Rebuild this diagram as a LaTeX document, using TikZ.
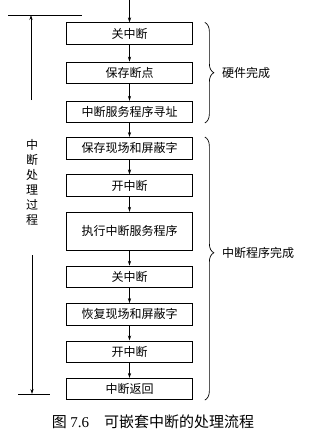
\documentclass[tikz,border=0pt]{standalone}
\usepackage{fontspec}
\setmainfont{Noto Sans CJK SC}
\newfontfamily\latinserif{Liberation Serif}
\usetikzlibrary{positioning,arrows.meta,decorations.pathreplacing}
\tikzset{
  stepbox/.style={rectangle, draw, align=center, line width=0.7pt,
                  minimum width=126pt, minimum height=21.5pt, inner sep=2pt,
                  font=\fontsize{12}{14}\selectfont},
  tallbox/.style={stepbox, minimum height=38pt},
  ar/.style={-{Stealth[length=5pt,width=3.2pt]}, line width=0.6pt},
  brc/.style={decorate, decoration={brace, amplitude=9pt}, line width=0.7pt},
  lbl/.style={font=\fontsize{12}{14}\selectfont, anchor=west, inner sep=0pt},
}
\begin{document}
\begin{tikzpicture}[x=1pt, y=1pt, node distance=15.2pt]
  \useasboundingbox (0,0) rectangle (316,-442);
  % boxes
  \node[stepbox] (gz1) at (129.5,-33.5) {关中断};
  \node[stepbox, below=17pt of gz1] (bcdd) {保存断点};
  \node[stepbox, below=17pt of bcdd] (xz) {中断服务程序寻址};
  \node[stepbox, below=14pt of xz] (bcxc) {保存现场和屏蔽字};
  \node[stepbox, below=of bcxc] (kz1) {开中断};
  \node[tallbox, below=of kz1] (zx) {执行中断服务程序};
  \node[stepbox, below=of zx] (gz2) {关中断};
  \node[stepbox, below=of gz2] (hfxc) {恢复现场和屏蔽字};
  \node[stepbox, below=of hfxc] (kz2) {开中断};
  \node[stepbox, below=of kz2] (fh) {中断返回};
  \coordinate (entry) at (129.5,0);
  \draw[ar] (entry) -- (gz1);
  \foreach \a/\b in {gz1/bcdd, bcdd/xz, xz/bcxc, bcxc/kz1, kz1/zx,
                     zx/gz2, gz2/hfxc, hfxc/kz2, kz2/fh}
    \draw[ar] (\a) -- (\b);
  % braces
  \draw[brc] ([xshift=12pt]gz1.north east) -- ([xshift=12pt]xz.south east)
     node[lbl, midway, xshift=17pt] {硬件完成};
  \draw[brc, decoration={aspect=0.44}] ([xshift=12pt]bcxc.north east) -- ([xshift=12pt]fh.south east)
     node[lbl, pos=0.44, xshift=17pt] {中断程序完成};
  % left span
  \coordinate (upfoot) at (31,-100);
  \coordinate (uptop) at (31,-15);
  \coordinate (topl) at (8,-15);
  \coordinate (topr) at (82,-15);
  \coordinate (dntop) at (32,-255);
  \coordinate (dnfoot) at (32,-394);
  \coordinate (botl) at (18,-394);
  \coordinate (botr) at (50,-394);
  \draw[ar] (upfoot) -- (uptop);
  \draw[line width=0.7pt] (topl) -- (topr);
  \draw[ar] (dntop) -- (dnfoot);
  \draw[line width=0.7pt] (botl) -- (botr);
  \node[align=center, inner sep=0pt, font=\fontsize{12}{15}\selectfont] (proc) at (32,-182)
     {中\\断\\处\\理\\过\\程};
  % caption
  \node[font=\fontsize{15}{17}\selectfont] (cap) at (153,-422)
     {图 {\latinserif 7.6}\quad 可嵌套中断的处理流程};
\end{tikzpicture}
\end{document}
